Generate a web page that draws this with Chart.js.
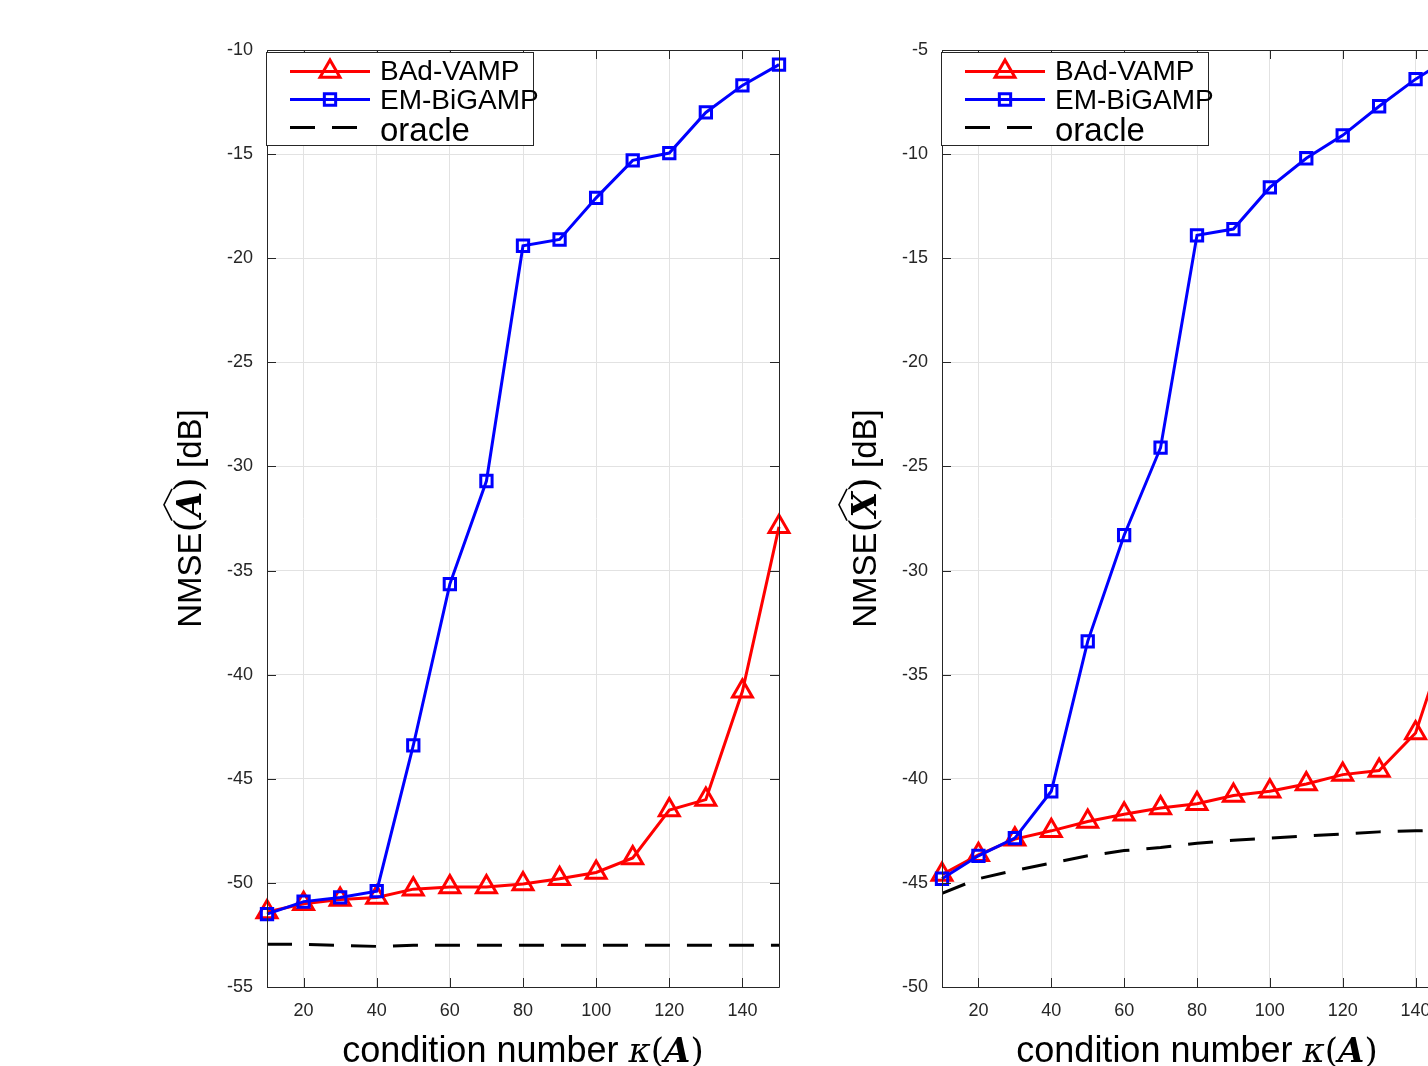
<!DOCTYPE html>
<html>
<head>
<meta charset="utf-8">
<script src="https://cdn.jsdelivr.net/npm/chart.js@4.4.0/dist/chart.umd.min.js"></script>
<style>
html, body { margin: 0; padding: 0; overflow: hidden; background: #fff; }
body { width: 1428px; height: 1066px; position: relative; }
canvas { position: absolute; top: 0; }
</style>
</head>
<body>
<canvas id="chartA" width="800" height="1066" style="left:0px"></canvas>
<canvas id="chartX" width="720" height="1066" style="left:780px"></canvas>
<script>
// condition numbers on the x axis
const kappa = [10, 20, 30, 40, 50, 60, 70, 80, 90, 100, 110, 120, 130, 140, 150];

// NMSE(A) [dB]
const badVampA  = [-51.4, -51.0, -50.8, -50.7, -50.3, -50.2, -50.2, -50.05, -49.8, -49.5, -48.8, -46.5, -46.0, -40.8, -32.9];
const emBigampA = [-51.5, -50.9, -50.7, -50.4, -43.4, -35.65, -30.7, -19.4, -19.1, -17.1, -15.3, -14.95, -13.0, -11.7, -10.7];
const oracleA   = [-52.95, -52.95, -53.0, -53.05, -53.0, -53.0, -53.0, -53.0, -53.0, -53.0, -53.0, -53.0, -53.0, -53.0, -53.0];

// NMSE(X) [dB]
const badVampX  = [-44.6, -43.65, -42.9, -42.5, -42.05, -41.7, -41.4, -41.2, -40.8, -40.6, -40.25, -39.8, -39.6, -37.8, -32.5];
const emBigampX = [-44.8, -43.7, -42.85, -40.6, -33.4, -28.3, -24.1, -13.9, -13.6, -11.6, -10.2, -9.1, -7.7, -6.4, -5.3];
const oracleX   = [-45.5, -44.8, -44.4, -44.05, -43.7, -43.45, -43.3, -43.1, -42.95, -42.85, -42.75, -42.65, -42.55, -42.5, -42.45];

const xTicks  = [20, 40, 60, 80, 100, 120, 140];
const yTicksA = [-55, -50, -45, -40, -35, -30, -25, -20, -15, -10];
const yTicksX = [-50, -45, -40, -35, -30, -25, -20, -15, -10, -5];
const seriesNames = ['BAd-VAMP', 'EM-BiGAMP', 'oracle'];

const axisColor = '#262626';
const sans = '"Liberation Sans", Arial, sans-serif';
const serif = '"DejaVu Serif", "Liberation Serif", serif';

function pts(ys) {
    return kappa.map((k, i) => ({x: k, y: ys[i]}));
}

// box + inward tick marks like matlab axes
const boxTicks = {
    id: 'boxTicks',
    afterDatasetsDraw(chart) {
        const ctx = chart.ctx;
        const a = chart.chartArea;
        const xs = chart.scales.x, ys = chart.scales.y;
        const len = 9;
        ctx.save();
        ctx.strokeStyle = axisColor;
        ctx.lineWidth = 1;
        ctx.beginPath();
        ctx.rect(Math.round(a.left) + 0.5, Math.round(a.top) + 0.5, Math.round(a.right - a.left), Math.round(a.bottom - a.top));
        for (const t of xs.ticks) {
            const px = Math.round(xs.getPixelForValue(t.value)) + 0.5;
            ctx.moveTo(px, a.bottom); ctx.lineTo(px, a.bottom - len);
            ctx.moveTo(px, a.top); ctx.lineTo(px, a.top + len);
        }
        for (const t of ys.ticks) {
            const py = Math.round(ys.getPixelForValue(t.value)) + 0.5;
            ctx.moveTo(a.left, py); ctx.lineTo(a.left + len, py);
            ctx.moveTo(a.right, py); ctx.lineTo(a.right - len, py);
        }
        ctx.stroke();
        ctx.restore();
    }
};

// legend box in the upper left corner
const boxLegend = {
    id: 'boxLegend',
    afterDraw(chart) {
        const ctx = chart.ctx;
        const a = chart.chartArea;
        const left = a.left - 1, top = 52;
        ctx.save();
        ctx.fillStyle = '#fff';
        ctx.fillRect(left, top, 267, 93);
        ctx.strokeStyle = axisColor;
        ctx.lineWidth = 1;
        ctx.strokeRect(left + 0.5, top + 0.5, 267, 93);
        const rows = [19.5, 47.5, 75.5];
        const base = [28, 57, 89];
        const fonts = ['28px ' + sans, '28px ' + sans, '33px ' + sans];
        chart.data.datasets.forEach((ds, i) => {
            const y = top + rows[i];
            ctx.save();
            ctx.strokeStyle = ds.borderColor;
            ctx.lineWidth = ds.borderWidth;
            ctx.setLineDash(ds.borderDash || []);
            ctx.beginPath();
            ctx.moveTo(left + 24, y);
            ctx.lineTo(left + 104, y);
            ctx.stroke();
            ctx.setLineDash([]);
            if (ds.pointRadius > 0) {
                ctx.fillStyle = 'rgba(0,0,0,0)';
                ctx.strokeStyle = ds.borderColor;
                ctx.lineWidth = ds.pointBorderWidth;
                Chart.helpers.drawPoint(ctx, {pointStyle: ds.pointStyle, radius: ds.pointRadius, borderWidth: ds.pointBorderWidth, rotation: 0}, left + 64, y);
            }
            ctx.restore();
            ctx.fillStyle = '#000';
            ctx.font = fonts[i];
            ctx.textBaseline = 'alphabetic';
            ctx.fillText(ds.label, left + 114, top + base[i]);
        });
        ctx.restore();
    }
};

// draw a run of text pieces with mixed fonts, centred on x = 0
function drawPieces(ctx, pieces, baseline) {
    let total = 0;
    for (const p of pieces) { ctx.font = p.font; p.w = ctx.measureText(p.text).width; total += p.w; }
    let x = -total / 2;
    for (const p of pieces) {
        ctx.font = p.font;
        ctx.fillText(p.text, x, baseline);
        if (p.hat) {
            ctx.beginPath();
            ctx.lineWidth = 1.6;
            ctx.moveTo(x - 3, baseline - p.hat);
            ctx.lineTo(x + p.w / 2, baseline - p.hat - 8);
            ctx.lineTo(x + p.w + 3, baseline - p.hat);
            ctx.stroke();
        }
        x += p.w;
    }
}

const axisTitles = {
    id: 'axisTitles',
    afterDraw(chart) {
        const ctx = chart.ctx;
        const a = chart.chartArea;
        const sym = chart.options.plugins.axisTitles.symbol;
        ctx.save();
        ctx.fillStyle = '#000';
        ctx.strokeStyle = '#000';
        ctx.textBaseline = 'alphabetic';
        // x title
        ctx.save();
        ctx.translate((a.left + a.right) / 2, 0);
        drawPieces(ctx, [
            {text: 'condition number ', font: '36px ' + sans},
            {text: 'κ', font: 'italic 34px ' + serif},
            {text: '(', font: '34px ' + serif},
            {text: 'A', font: 'bold italic 34px ' + serif},
            {text: ')', font: '34px ' + serif}
        ], a.bottom + 75);
        ctx.restore();
        // y title
        ctx.save();
        ctx.translate(a.left - 78, (a.top + a.bottom) / 2);
        ctx.rotate(-Math.PI / 2);
        drawPieces(ctx, [
            {text: 'NMSE', font: '33px ' + sans},
            {text: '(', font: '38px ' + serif},
            {text: sym, font: 'bold italic 33px ' + serif, hat: 29},
            {text: ')', font: '38px ' + serif},
            {text: ' [dB]', font: '33px ' + sans}
        ], 12);
        ctx.restore();
        ctx.restore();
    }
};

function makeChart(id, vamp, bigamp, oracle, yTicks, yWidth, rightPad, sym) {
    return new Chart(document.getElementById(id), {
        type: 'line',
        data: {
            datasets: [
                {
                    label: seriesNames[0], data: pts(vamp), order: 1,
                    borderColor: '#ff0000', borderWidth: 3,
                    pointStyle: 'triangle', pointRadius: 11.5, pointBorderWidth: 3,
                    pointBackgroundColor: 'rgba(0,0,0,0)', pointBorderColor: '#ff0000',
                    clip: false
                },
                {
                    label: seriesNames[1], data: pts(bigamp), order: 0,
                    borderColor: '#0000ff', borderWidth: 3,
                    pointStyle: 'rect', pointRadius: 8, pointBorderWidth: 3,
                    pointBackgroundColor: 'rgba(0,0,0,0)', pointBorderColor: '#0000ff',
                    clip: false
                },
                {
                    label: seriesNames[2], data: pts(oracle), order: 2,
                    borderColor: '#000000', borderWidth: 3, borderDash: [25, 17],
                    pointRadius: 0, pointBorderWidth: 0
                }
            ]
        },
        options: {
            responsive: false,
            animation: false,
            events: [],
            layout: {padding: {left: 0, right: rightPad, top: 50, bottom: 0}},
            elements: {line: {tension: 0, borderCapStyle: 'butt'}},
            scales: {
                x: {
                    type: 'linear', min: 10, max: 150,
                    afterBuildTicks: s => { s.ticks = xTicks.map(v => ({value: v})); },
                    afterFit: s => { s.height = 79; },
                    grid: {color: '#e2e2e2', lineWidth: 1, drawTicks: false},
                    border: {display: false},
                    ticks: {color: axisColor, font: {family: sans, size: 18}, padding: 13, maxRotation: 0}
                },
                y: {
                    type: 'linear', min: yTicks[0], max: yTicks[yTicks.length - 1],
                    afterBuildTicks: s => { s.ticks = yTicks.map(v => ({value: v})); },
                    afterFit: s => { s.width = yWidth; },
                    grid: {color: '#e2e2e2', lineWidth: 1, drawTicks: false},
                    border: {display: false},
                    ticks: {color: axisColor, font: {family: sans, size: 18}, padding: 14}
                }
            },
            plugins: {
                legend: {display: false},
                tooltip: {enabled: false},
                axisTitles: {symbol: sym}
            }
        },
        plugins: [boxTicks, axisTitles, boxLegend]
    });
}

makeChart('chartA', badVampA, emBigampA, oracleA, yTicksA, 267, 21, 'A');
makeChart('chartX', badVampX, emBigampX, oracleX, yTicksX, 162, 48, 'X');
</script>
</body>
</html>
